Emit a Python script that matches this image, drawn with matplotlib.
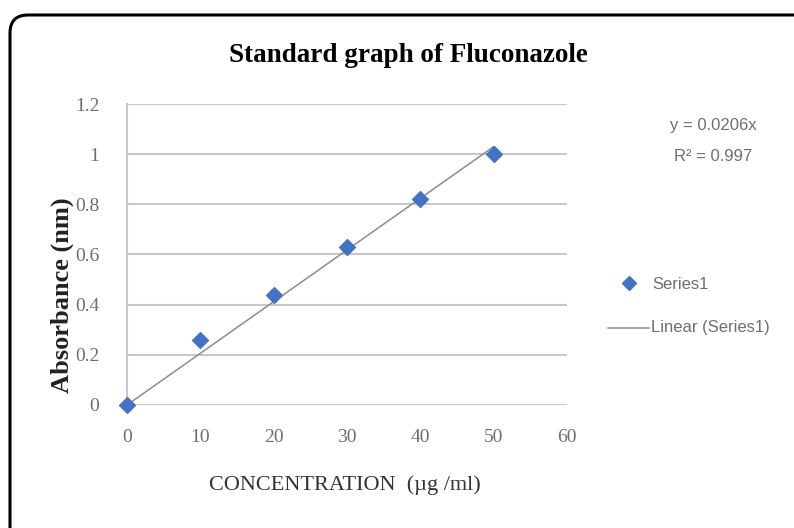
import matplotlib
matplotlib.use("Agg")
import matplotlib.pyplot as plt
import numpy as np
from matplotlib.patches import FancyBboxPatch

# data
conc = [0, 10, 20, 30, 40, 50]
absorb = [0.0, 0.26, 0.44, 0.63, 0.82, 1.0]
slope = 0.0206
x_ticks = [0, 10, 20, 30, 40, 50, 60]
y_ticks = [0, 0.2, 0.4, 0.6, 0.8, 1.0, 1.2]
y_ticklabels = ["0", "0.2", "0.4", "0.6", "0.8", "1", "1.2"]

fig = plt.figure(figsize=(7.94, 5.28), dpi=100)
ax = fig.add_axes([0.16, 0.233, 0.554, 0.570])

# trend line through origin
xfit = np.array([0, 50])
ax.plot(xfit, slope * xfit, color="#8c8c8c", lw=1.1, zorder=2)
ax.scatter(conc, absorb, marker="D", s=65, color="#4472C4", zorder=3, clip_on=False)

ax.set_xlim(0, 60)
ax.set_ylim(0, 1.2)
ax.set_xticks(x_ticks)
ax.set_yticks(y_ticks)
ax.set_yticklabels(y_ticklabels)
ax.tick_params(length=0, labelsize=14, labelcolor="#6e6e6e")
ax.tick_params(axis="x", pad=17)
ax.tick_params(axis="y", pad=20)
for lab in ax.get_xticklabels() + ax.get_yticklabels():
    lab.set_family("Liberation Serif")
ax.grid(axis="y", color="#c8c8c8", lw=1.5)
ax.set_axisbelow(True)
for s in ["top", "right", "bottom"]:
    ax.spines[s].set_visible(False)
ax.spines["left"].set_color("#c8c8c8")
ax.spines["left"].set_linewidth(1.5)

fig.text(0.514, 0.894, "Standard graph of Fluconazole", ha="center", va="center",
         family="Liberation Serif", weight="bold", fontsize=19.5)
fig.text(0.434, 0.081, "CONCENTRATION  (\u00b5g /ml)", ha="center", va="center",
         family="Liberation Serif", fontsize=16, color="#333333")
fig.text(0.078, 0.44, "Absorbance (nm)", ha="center", va="center", rotation=90,
         family="Liberation Serif", weight="bold", fontsize=19, color="#222222")

# equation
fig.text(0.898, 0.763, "y = 0.0206x", ha="center", va="center", fontsize=12,
         family="Liberation Sans", color="#6e6e6e")
fig.text(0.898, 0.703, "R\u00b2 = 0.997", ha="center", va="center", fontsize=12,
         family="Liberation Sans", color="#6e6e6e")

# legend
fig.lines.append(plt.Line2D([0.792], [0.464], marker="D", ms=7, color="#4472C4",
                            transform=fig.transFigure, figure=fig))
fig.text(0.822, 0.462, "Series1", va="center", fontsize=12,
         family="Liberation Sans", color="#6e6e6e")
fig.lines.append(plt.Line2D([0.766, 0.818], [0.379, 0.379], color="#8c8c8c", lw=1.1,
                            transform=fig.transFigure, figure=fig))
fig.text(0.820, 0.379, "Linear (Series1)", va="center", fontsize=12,
         family="Liberation Sans", color="#6e6e6e")

# rounded chart border (inches), cut off at right and bottom
border = FancyBboxPatch((0.10, -0.30), 8.2, 5.43, boxstyle="round,pad=0,rounding_size=0.18",
                        transform=fig.dpi_scale_trans, fill=False, ec="black", lw=2.2)
fig.patches.append(border)

fig.savefig("out.png", dpi=100)
